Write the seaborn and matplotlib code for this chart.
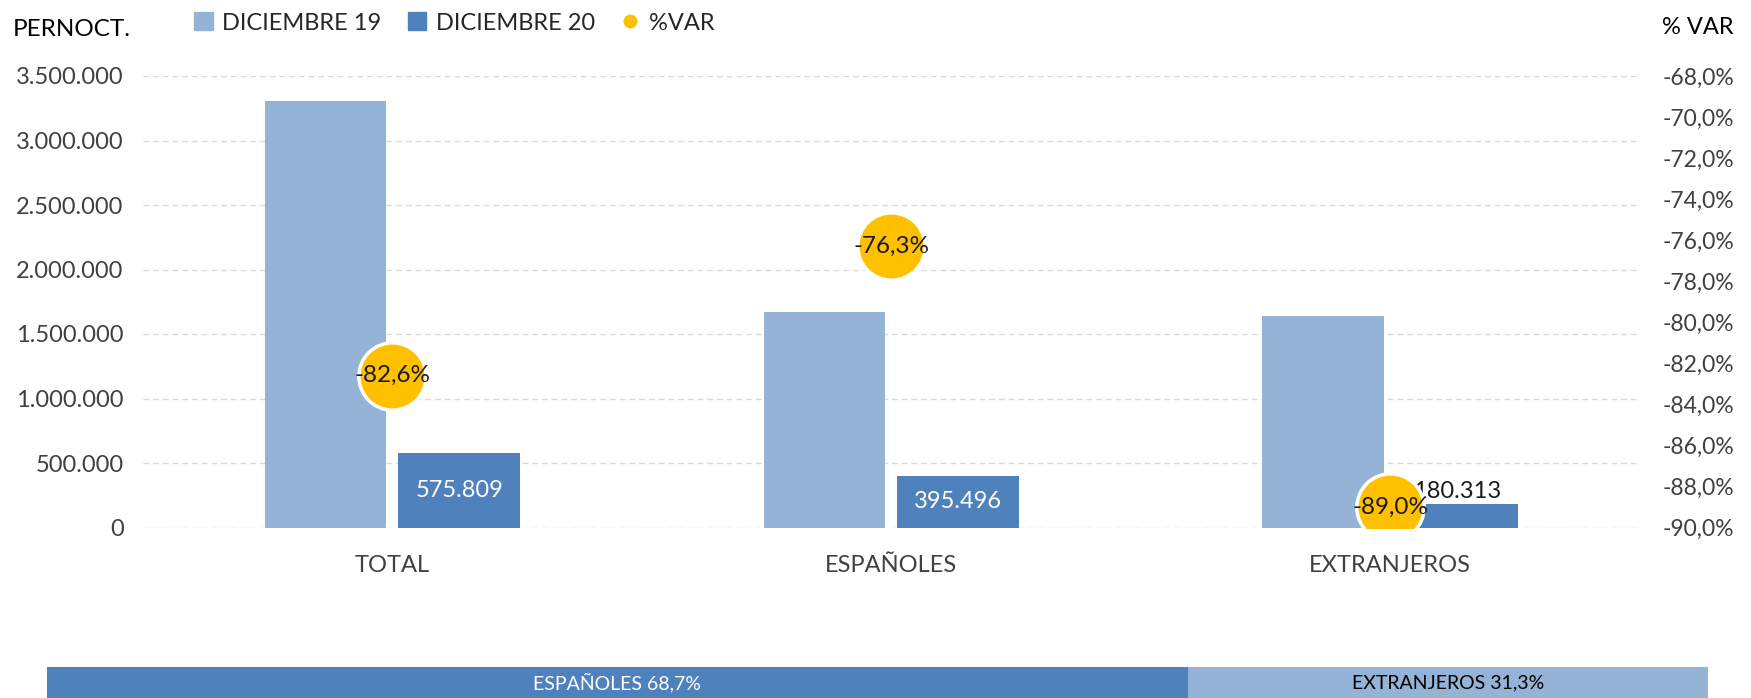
import numpy as np
import pandas as pd
import seaborn as sns
import matplotlib.pyplot as plt
from matplotlib.lines import Line2D
from matplotlib.patches import Patch
from matplotlib.ticker import FuncFormatter

categorias = ['TOTAL', 'ESPAÑOLES', 'EXTRANJEROS']
periodos = ['DICIEMBRE 19', 'DICIEMBRE 20']
dic19 = [3309000, 1668000, 1639000]
dic20 = [575809, 395496, 180313]
var_pct = [-82.6, -76.3, -89.0]
cuota_nombres = ['ESPAÑOLES', 'EXTRANJEROS']
cuota = [68.7, 31.3]

col19 = '#95B3D7'
col20 = '#4F81BD'
oro = '#FFC000'
gris = '#404040'

sns.set_style('white')
plt.rcParams['font.family'] = ['Lato', 'DejaVu Sans']

df = pd.DataFrame({
    'categoria': categorias * 2,
    'periodo': [periodos[0]] * 3 + [periodos[1]] * 3,
    'pernoct': dic19 + dic20,
})

def miles(v):
    return f'{v:,.0f}'.replace(',', '.')

W, H = 1751, 698
fig = plt.figure(figsize=(W / 100, H / 100), dpi=100)
ax = fig.add_axes([143 / W, 1 - 527.5 / H, (1639.5 - 143) / W, (527.5 - 76) / H])

sns.barplot(data=df, x='categoria', y='pernoct', hue='periodo', order=categorias,
            hue_order=periodos, palette=[col19, col20], width=0.536, gap=0.09,
            saturation=1, ax=ax, legend=False, linewidth=0)
ax.set_ylim(0, 3500000)
ax.set_xlim(-0.5, 2.5)
ax.set_yticks(np.arange(0, 3500001, 500000))
ax.yaxis.set_major_formatter(FuncFormatter(lambda v, p: miles(v)))
ax.grid(axis='y', color='#D9D9D9', linestyle=(0, (4, 3)), linewidth=1)
ax.set_axisbelow(True)
ax.set_xlabel('')
ax.set_ylabel('')
for s in ax.spines.values():
    s.set_visible(False)
ax.tick_params(axis='both', length=0, labelsize=17, labelcolor=gris)
ax.tick_params(axis='x', pad=20)
ax.tick_params(axis='y', pad=14)

# etiquetas de DICIEMBRE 20
for rect, v in zip(ax.containers[1], dic20):
    cx = rect.get_x() + rect.get_width() / 2
    if v > 300000:
        ax.text(cx, v / 2, miles(v), ha='center', va='center', color='white', fontsize=17)
    else:
        ax.text(cx, v + 15000, miles(v), ha='center', va='bottom', color='#1a1a1a', fontsize=17)

ax2 = ax.twinx()
sns.scatterplot(x=np.arange(len(categorias)), y=var_pct, ax=ax2, s=2350, color=oro,
                edgecolor='white', linewidth=2.5, zorder=5, legend=False)
ax2.set_ylim(-90, -68)
ax2.set_xlim(-0.5, 2.5)
ax2.set_yticks(np.arange(-90, -67, 2))
ax2.yaxis.set_major_formatter(FuncFormatter(lambda v, p: f'{v:.1f}%'.replace('.', ',')))
for s in ax2.spines.values():
    s.set_visible(False)
ax2.tick_params(axis='y', length=0, labelsize=16.5, labelcolor=gris, pad=17)
for i, v in enumerate(var_pct):
    ax2.text(i, v, f'{v:.1f}%'.replace('.', ','), ha='center', va='center',
             fontsize=17.5, color='#1a1a1a', zorder=6)

fig.text(13 / W, 1 - 30 / H, 'PERNOCT.', fontsize=17.5, color='black', va='center')
fig.text(1734 / W, 1 - 28 / H, '% VAR', fontsize=17, color='black', va='center', ha='right')

handles = [Patch(color=col19, label=periodos[0]), Patch(color=col20, label=periodos[1]),
           Line2D([], [], marker='o', linestyle='', color=oro, markersize=9, label='%VAR')]
fig.legend(handles=handles, loc='center left', bbox_to_anchor=(194 / W, 1 - 23 / H),
           ncol=3, frameon=False, fontsize=17, handlelength=0.8, handleheight=0.8,
           handletextpad=0.4, columnspacing=1.1, borderaxespad=0, borderpad=0)

# barra de cuota inferior
axb = fig.add_axes([47 / W, 0, (1707.5 - 47) / W, 31 / H])
izq = 0
for nombre, c, col, tc in zip(cuota_nombres, cuota, [col20, col19], ['white', 'black']):
    axb.barh(0, c, left=izq, height=1, color=col, edgecolor='none', linewidth=0)
    axb.text(izq + c / 2, 0, f'{nombre} {c:.1f}%'.replace('.', ','), ha='center',
             va='center', color=tc, fontsize=14)
    izq += c
axb.set_xlim(0, 100)
axb.set_ylim(-0.5, 0.5)
axb.axis('off')

fig.savefig('out.png', dpi=100)
